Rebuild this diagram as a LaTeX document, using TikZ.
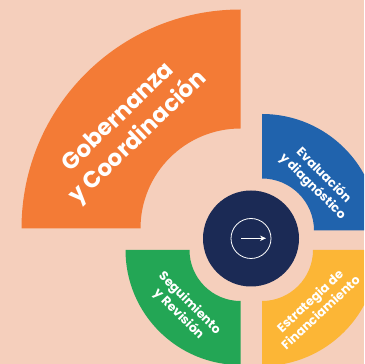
\documentclass[tikz,border=0pt]{standalone}
\usepackage{fontspec}
\setmainfont{Poppins}
\usetikzlibrary{arrows.meta}
\definecolor{bgpeach}{RGB}{245,207,188}
\definecolor{secorange}{RGB}{243,123,54}
\definecolor{secblue}{RGB}{32,99,173}
\definecolor{secgreen}{RGB}{35,166,85}
\definecolor{secyellow}{RGB}{252,182,54}
\definecolor{navy}{RGB}{27,42,85}
\begin{document}
\begin{tikzpicture}[x=1pt,y=1pt,
  lbl/.style={text=white,font=\bfseries\fontsize{12.5}{15.5}\selectfont,align=center,inner sep=0pt},
  biglbl/.style={text=white,font=\bfseries\fontsize{23}{28.5}\selectfont,align=center,inner sep=0pt}]
\useasboundingbox (0,0) rectangle (364,364);
\fill[bgpeach] (0,0) rectangle (364,364);
\begin{scope}
\clip (0,0) rectangle (364,364);
% orange sector
\fill[secorange,shift={(240.5,135.5)}] (90:219) arc[start angle=90,end angle=180,radius=219pt]
  -- (180:100) arc[start angle=180,end angle=90,radius=100pt] -- cycle;
% blue sector
\fill[secblue,shift={(262,133.5)}] (0:116.5) arc[start angle=0,end angle=90,radius=116.5pt]
  -- (90:52) arc[start angle=90,end angle=0,radius=52pt] -- cycle;
% green sector
\fill[secgreen,shift={(240.5,114)}] (180:115) arc[start angle=180,end angle=270,radius=115pt]
  -- (270:51) arc[start angle=270,end angle=180,radius=51pt] -- cycle;
% yellow sector
\fill[secyellow,shift={(262,114)}] (270:116) arc[start angle=270,end angle=360,radius=116pt]
  -- (0:51) arc[start angle=360,end angle=270,radius=51pt] -- cycle;
\end{scope}
% labels
\node[biglbl,rotate=44] (gob) at (129,236) {Gobernanza\\y Coordinación};
\node[lbl,rotate=-45] (eva) at (318,183) {Evaluación\\y diagnóstico};
\node[lbl,rotate=-45] (seg) at (184,55) {Seguimiento\\y Revisión};
\node[lbl,rotate=43] (est) at (315,57.5) {Estrategia de\\Financiamiento};
% centre
\node[circle,fill=navy,minimum size=96pt,inner sep=0pt] (hub) at (251,125.5) {};
\node[circle,draw=white,line width=0.8pt,minimum size=40pt,inner sep=0pt] (ring) at (hub) {};
\coordinate (as) at (241,125.7);
\coordinate (ae) at (266,125.7);
\draw[white,line width=0.9pt,-{Stealth[length=6pt,width=5.5pt]}] (as) -- (ae);
\end{tikzpicture}
\end{document}
